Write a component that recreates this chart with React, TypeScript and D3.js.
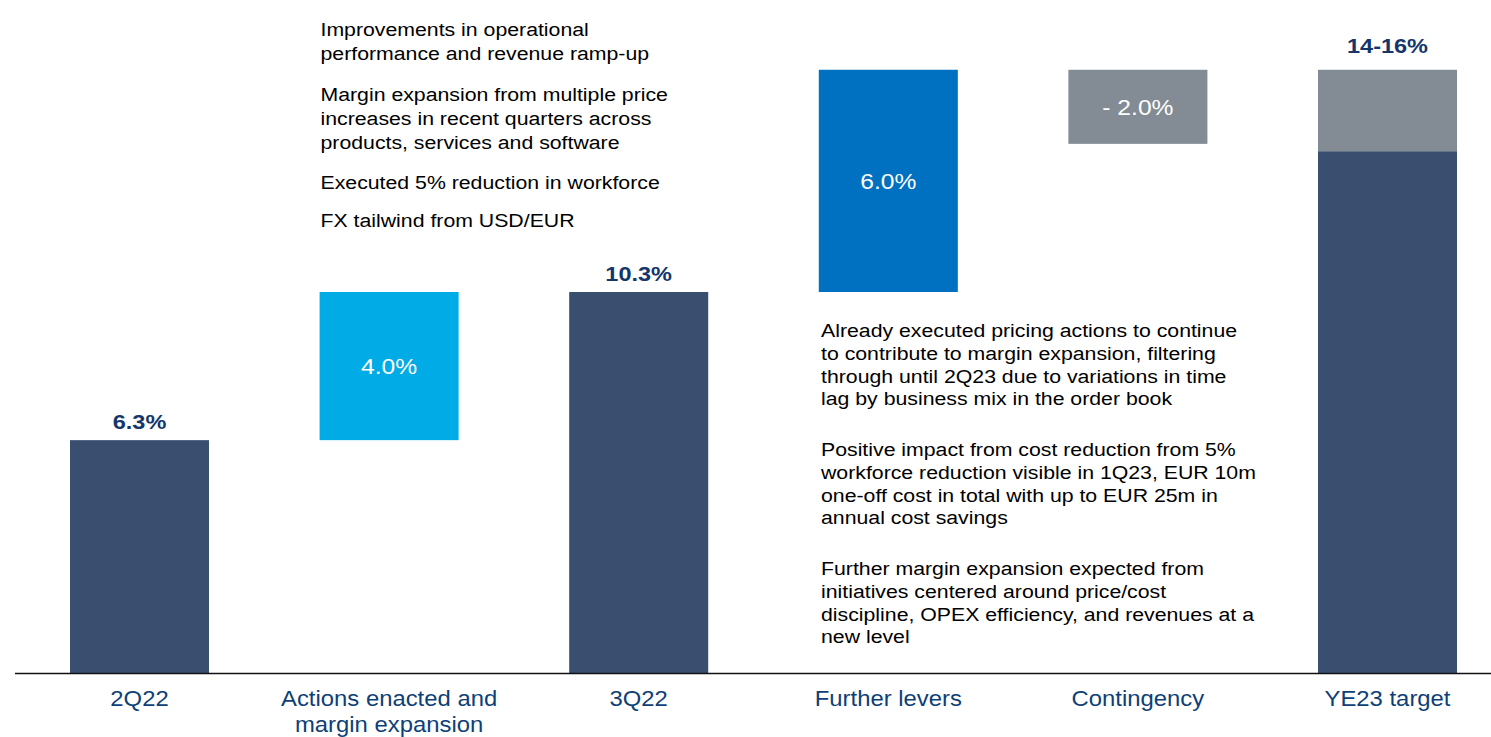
import React from "react";
import * as d3 from "d3";

const categories = ["2Q22", "Actions enacted and margin expansion", "3Q22", "Further levers", "Contingency", "YE23 target"];
const categoryLines = [["2Q22"], ["Actions enacted and", "margin expansion"], ["3Q22"], ["Further levers"], ["Contingency"], ["YE23 target"]];
const barStart = [0, 6.3, 0, 10.3, 14.3, 0];
const barEnd = [6.3, 10.3, 10.3, 16.3, 16.3, 14.1];
const targetRange = [14.1, 16.3];
const totalLabels = ["6.3%", "", "10.3%", "", "", "14-16%"];
const deltaLabels = ["", "4.0%", "", "6.0%", "- 2.0%", ""];

const leftNotes = [
  ["Improvements in operational", "performance and revenue ramp-up"],
  ["Margin expansion from multiple price", "increases in recent quarters across", "products, services and software"],
  ["Executed 5% reduction in workforce"],
  ["FX tailwind from USD/EUR"],
];
const rightNotes = [
  ["Already executed pricing actions to continue", "to contribute to margin expansion, filtering", "through until 2Q23 due to variations in time", "lag by business mix in the order book"],
  ["Positive impact from cost reduction from 5%", "workforce reduction visible in 1Q23, EUR 10m", "one-off cost in total with up to EUR 25m in", "annual cost savings"],
  ["Further margin expansion expected from", "initiatives centered around price/cost", "discipline, OPEX efficiency, and revenues at a", "new level"],
];

const W = 1491;
const H = 737;
const FONT = "'Liberation Sans', Arial, sans-serif";
const NAVY = "#3A4F70";
const barColors = [NAVY, "#00ABE6", NAVY, "#0070C0", "#838B94", NAVY];
const LABEL_BLUE = "#0E3F77";
const VALUE_BLUE = "#14366B";
const SX = 1.12;

function T({ x, y, size, children, anchor = "start", weight = "normal", fill = "#000" }: any) {
  return (
    <text
      transform={`translate(${x},${y}) scale(${SX},1)`}
      fontFamily={FONT}
      fontSize={size}
      fontWeight={weight}
      textAnchor={anchor}
      fill={fill}
    >
      {children}
    </text>
  );
}

export default function App() {
  const x = d3.scaleBand<string>().domain(categories).range([14.7, 1512.3]).paddingInner(0.443).paddingOuter(0.2215);
  const y = d3.scaleLinear().domain([0, 10.3]).range([673.5, 292]);
  const bw = x.bandwidth();

  const leftBaselines = [[36, 60], [101, 125, 149], [189], [227]];
  const rightParaStart = [337, 456, 575];
  const rightLH = 22.8;

  return (
    <svg width={W} height={H} style={{ position: "absolute", left: 0, top: 0, display: "block", background: "#fff" }}>
      {categories.map((c, i) => {
        const x0 = x(c)!;
        const isTarget = i === 5;
        return (
          <g key={c}>
            {isTarget ? (
              <>
                <rect x={x0} y={y(targetRange[1])} width={bw} height={y(targetRange[0]) - y(targetRange[1])} fill="#838B94" />
                <rect x={x0} y={y(barEnd[i])} width={bw} height={y(barStart[i]) - y(barEnd[i])} fill={NAVY} />
              </>
            ) : (
              <rect x={x0} y={y(barEnd[i])} width={bw} height={y(barStart[i]) - y(barEnd[i])} fill={barColors[i]} />
            )}
            {totalLabels[i] && (
              <T x={x0 + bw / 2} y={y(isTarget ? targetRange[1] : barEnd[i]) - 11 - (isTarget ? 6 : 0)} size={21} anchor="middle" weight="bold" fill={VALUE_BLUE}>
                {totalLabels[i]}
              </T>
            )}
            {deltaLabels[i] && (
              <T x={x0 + bw / 2} y={(y(barStart[i]) + y(barEnd[i])) / 2 + 8} size={22} anchor="middle" fill="#fff">
                {deltaLabels[i]}
              </T>
            )}
            {categoryLines[i].map((ln, k) => (
              <T key={k} x={x0 + bw / 2} y={706 + k * 25.5} size={21.3} anchor="middle" fill={LABEL_BLUE}>
                {ln}
              </T>
            ))}
          </g>
        );
      })}
      <line x1={15} x2={W} y1={673.5} y2={673.5} stroke="#111" strokeWidth={1.6} />
      {leftNotes.map((p, pi) =>
        p.map((ln, li) => (
          <T key={`l${pi}-${li}`} x={320.5} y={leftBaselines[pi][li]} size={19}>
            {ln}
          </T>
        ))
      )}
      {rightNotes.map((p, pi) =>
        p.map((ln, li) => (
          <T key={`r${pi}-${li}`} x={821} y={rightParaStart[pi] + li * rightLH} size={19}>
            {ln}
          </T>
        ))
      )}
    </svg>
  );
}
